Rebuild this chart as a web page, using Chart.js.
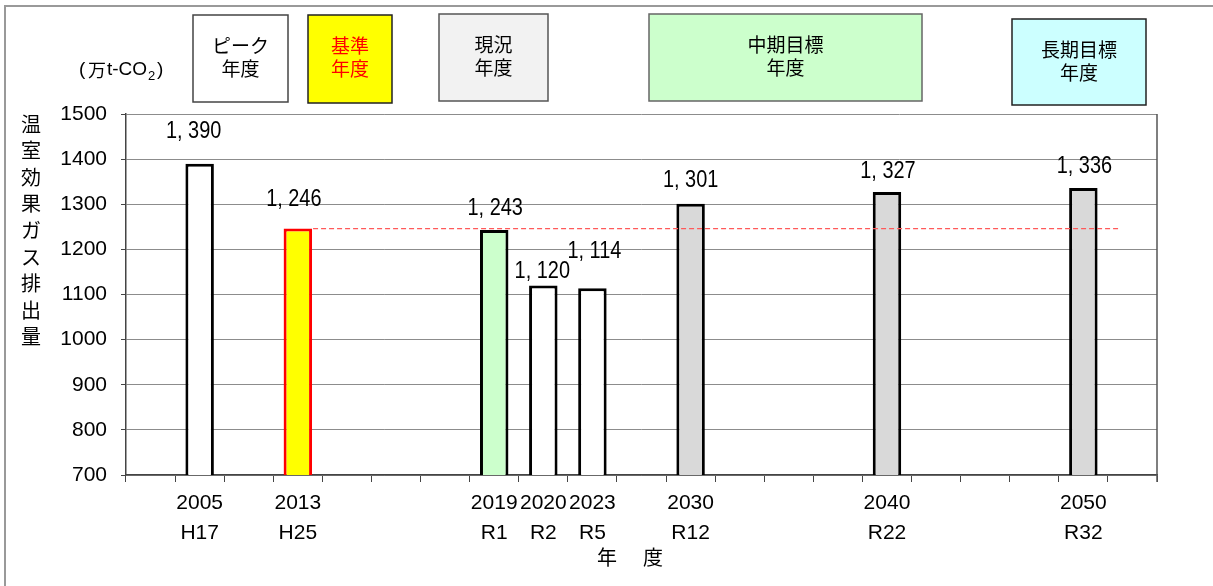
<!DOCTYPE html>
<html>
<head>
<meta charset="utf-8">
<script src="https://cdn.jsdelivr.net/npm/chart.js@4/dist/chart.umd.min.js"></script>
<style>
  html, body { margin: 0; padding: 0; background: #fff; }
  #wrap { width: 1213px; height: 586px; position: relative; }
</style>
</head>
<body>
<div id="wrap"><canvas id="c" width="1213" height="586"></canvas></div>
<script>
// Fiscal-year categories (blank entries are spacer slots on the axis)
const categories = ['', '2005', '', '2013', '', '', '', '2019', '2020', '2023', '', '2030', '', '', '', '2040', '', '', '', '2050', ''];
const eraLabels  = ['', 'H17',  '', 'H25',  '', '', '', 'R1',   'R2',   'R5',   '', 'R12',  '', '', '', 'R22',  '', '', '', 'R32',  ''];
// Greenhouse gas emissions (10,000 t-CO2)
const emissions  = [null, 1390, null, 1246, null, null, null, 1243, 1120, 1114, null, 1301, null, null, null, 1327, null, null, null, 1336, null];
const baseYear = '2013';
const yTickValues = [700, 800, 900, 1000, 1100, 1200, 1300, 1400, 1500];

// Bar styling per category
const barFills   = ['#fff', '#ffffff', '#fff', '#ffff00', '#fff', '#fff', '#fff', '#ccffcc', '#ffffff', '#ffffff', '#fff', '#d9d9d9', '#fff', '#fff', '#fff', '#d9d9d9', '#fff', '#fff', '#fff', '#d9d9d9', '#fff'];
const barBorders = ['#000', '#000', '#000', '#ff0000', '#000', '#000', '#000', '#000', '#000', '#000', '#000', '#000', '#000', '#000', '#000', '#000', '#000', '#000', '#000', '#000', '#000'];
// Value label placement relative to the bar top (dx, dy of label centre)
const labelShift = {
  '2005': [-6, -32], '2013': [-4, -29], '2019': [1, -22], '2020': [-1, -14],
  '2023': [2, -37], '2030': [0, -23], '2040': [1, -21], '2050': [1, -22]
};

const NUM_FONT = "'Liberation Sans', Arial, sans-serif";
const JP_FONT = "'Noto Sans CJK JP', 'Noto Sans', sans-serif";

// Category header boxes above the plot
const headerBoxes = [
  { lines: ['ピーク', '年度'], x: 193, y: 15, w: 95, h: 87, fill: '#ffffff', stroke: '#444', text: '#000' },
  { lines: ['基準', '年度'], x: 308, y: 15, w: 84, h: 88, fill: '#ffff00', stroke: '#222', text: '#ff0000' },
  { lines: ['現況', '年度'], x: 439, y: 14, w: 109, h: 87, fill: '#f2f2f2', stroke: '#555', text: '#000' },
  { lines: ['中期目標', '年度'], x: 649, y: 14, w: 273, h: 87, fill: '#ccffcc', stroke: '#666', text: '#000' },
  { lines: ['長期目標', '年度'], x: 1012, y: 19, w: 134, h: 86, fill: '#ccffff', stroke: '#222', text: '#000' }
];

function fmt(v) {
  return v.toLocaleString('en-US').replace(/,/g, ', ');
}

const decorations = {
  id: 'decorations',
  beforeDraw(chart) {
    const ctx = chart.ctx;
    ctx.save();
    ctx.fillStyle = '#fff';
    ctx.fillRect(0, 0, chart.width, chart.height);
    // outer frame
    ctx.strokeStyle = '#999';
    ctx.lineWidth = 2;
    ctx.beginPath();
    ctx.moveTo(5, chart.height + 5);
    ctx.lineTo(5, 6);
    ctx.lineTo(chart.width + 5, 6);
    ctx.stroke();
    ctx.restore();
  },
  afterDatasetsDraw(chart) {
    const ctx = chart.ctx;
    const x = chart.scales.x, y = chart.scales.y;
    const meta = chart.getDatasetMeta(0);
    const ca = chart.chartArea;
    ctx.save();
    // right border of plot area
    ctx.strokeStyle = '#555';
    ctx.lineWidth = 1.5;
    ctx.beginPath();
    ctx.moveTo(ca.right, ca.top);
    ctx.lineTo(ca.right, ca.bottom + 7);
    ctx.stroke();

    // base-year reference line
    const bi = categories.indexOf(baseYear);
    const bar = meta.data[bi];
    const slot = x.getPixelForValue(1) - x.getPixelForValue(0);
    const yLine = y.getPixelForValue(emissions[bi]);
    ctx.strokeStyle = '#ff5a5a';
    ctx.lineWidth = 1.3;
    ctx.setLineDash([5, 3]);
    ctx.beginPath();
    ctx.moveTo(bar.x + bar.width / 2 + 1, yLine);
    ctx.lineTo(x.getPixelForValue(categories.length - 1) - slot * 0.25, yLine);
    ctx.stroke();
    ctx.setLineDash([]);

    // value labels (tall, narrow figures)
    ctx.fillStyle = '#000';
    ctx.font = '24px ' + NUM_FONT;
    ctx.textAlign = 'center';
    ctx.textBaseline = 'middle';
    emissions.forEach((v, i) => {
      if (v == null) return;
      const el = meta.data[i];
      const s = labelShift[categories[i]] || [0, -24];
      ctx.save();
      ctx.translate(el.x + s[0], el.y + s[1]);
      ctx.scale(0.83, 1);
      ctx.fillText(fmt(v), 0, 0);
      ctx.restore();
    });
    ctx.restore();
  },
  afterDraw(chart) {
    const ctx = chart.ctx;
    ctx.save();
    // header boxes
    headerBoxes.forEach(b => {
      ctx.fillStyle = b.fill;
      ctx.fillRect(b.x, b.y, b.w, b.h);
      ctx.strokeStyle = b.stroke;
      ctx.lineWidth = 1.5;
      ctx.strokeRect(b.x, b.y, b.w, b.h);
      ctx.fillStyle = b.text;
      ctx.font = '19px ' + JP_FONT;
      ctx.textAlign = 'center';
      ctx.textBaseline = 'middle';
      const cx = b.x + b.w / 2;
      ctx.fillText(b.lines[0], cx, b.y + 31);
      ctx.fillText(b.lines[1], cx, b.y + 54);
    });

    // unit label (万t-CO2)
    ctx.fillStyle = '#000';
    ctx.textAlign = 'left';
    ctx.textBaseline = 'middle';
    const uy = 70;
    ctx.font = '19px ' + NUM_FONT;
    ctx.fillText('(', 79, uy);
    ctx.font = '18px ' + JP_FONT;
    ctx.fillText('万', 88, uy);
    ctx.font = '19px ' + NUM_FONT;
    ctx.fillText('t-CO', 107, uy);
    ctx.font = '13px ' + NUM_FONT;
    ctx.fillText('2', 148, uy + 6);
    ctx.font = '19px ' + NUM_FONT;
    ctx.fillText(')', 157, uy);

    // vertical y-axis title
    ctx.textAlign = 'center';
    ctx.font = '20px ' + JP_FONT;
    const title = '温室効果ガス排出量';
    [...title].forEach((ch, i) => {
      ctx.fillText(ch, 31, 124 + i * 26.6);
    });

    // x-axis title
    ctx.font = '20px ' + JP_FONT;
    ctx.fillText('年', 607, 557);
    ctx.fillText('度', 653, 557);
    ctx.restore();
  }
};

new Chart(document.getElementById('c'), {
  type: 'bar',
  data: {
    labels: categories.map((c, i) => c ? [c, eraLabels[i]] : ''),
    datasets: [{
      data: emissions,
      backgroundColor: barFills,
      borderColor: barBorders,
      borderWidth: 3,
      borderSkipped: false,
      barPercentage: 0.58,
      categoryPercentage: 1.0
    }]
  },
  options: {
    responsive: false,
    animation: false,
    events: [],
    layout: { padding: { left: 26, right: 56, top: 114, bottom: 0 } },
    plugins: {
      legend: { display: false },
      title: { display: false },
      tooltip: { enabled: false }
    },
    scales: {
      x: {
        offset: true,
        grid: {
          offset: true,
          drawOnChartArea: false,
          drawTicks: true,
          tickLength: 7,
          tickColor: '#444',
          lineWidth: 1
        },
        border: { color: '#444', width: 1.5 },
        ticks: {
          autoSkip: false,
          maxRotation: 0,
          minRotation: 0,
          padding: 7,
          color: '#000',
          font: { family: NUM_FONT, size: 21, lineHeight: 1.4 }
        },
        afterFit(scale) { scale.height = 111; }
      },
      y: {
        min: 700,
        max: 1500,
        afterBuildTicks(scale) { scale.ticks = yTickValues.map(v => ({ value: v })); },
        grid: {
          color: '#8c8c8c',
          lineWidth: 1,
          tickLength: 5,
          tickColor: '#444'
        },
        border: { color: '#444', width: 1.5 },
        ticks: {
          padding: 14,
          color: '#000',
          font: { family: NUM_FONT, size: 21 },
          callback: (v) => String(v)
        },
        afterFit(scale) { scale.width = 100; }
      }
    }
  },
  plugins: [decorations]
});
</script>
</body>
</html>
